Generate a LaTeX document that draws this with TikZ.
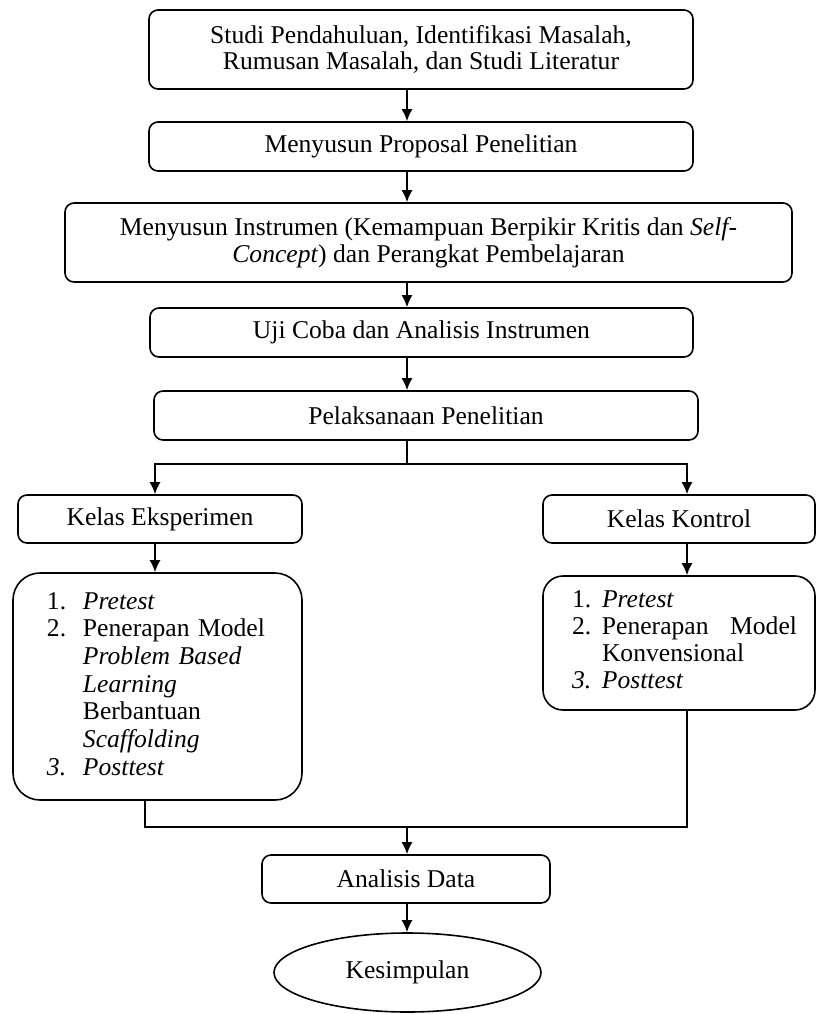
\documentclass[tikz,border=0pt]{standalone}
\usepackage{fontspec}
\setmainfont{Liberation Serif}
\usepackage{array}
\usetikzlibrary{arrows.meta, shapes.geometric}

\begin{document}
\begin{tikzpicture}[x=0.5pt, y=-0.5pt,
    kotak/.style={draw, line width=0.8pt, rounded corners=4.5pt, align=center, inner sep=0pt,
        font=\fontsize{12.8}{13.3}\selectfont},
    panah/.style={-{Latex[length=6pt, width=5.5pt]}, line width=0.8pt},
    garis/.style={line width=0.8pt}]
    \useasboundingbox (0,0) rectangle (816,1014);

    \coordinate (X) at (407,0);
    \coordinate (XL) at (155,0);
    \coordinate (XR) at (687,0);
    \coordinate (XM) at (145,0);
    \coordinate (C) at (407,464);
    \coordinate (M) at (407,827);

    \node[kotak, minimum width=272pt, minimum height=39.5pt] (S) at (421,49.5)
        {Studi Pendahuluan, Identifikasi Masalah,\\Rumusan Masalah, dan Studi Literatur};
    \node[kotak, minimum width=272pt, minimum height=24.5pt] (P) at (421,146.5)
        {Menyusun Proposal Penelitian};
    \node[kotak, minimum width=363.5pt, minimum height=39.5pt,
        font=\fontsize{12.8}{13.5}\selectfont] (I) at (428.5,242.5)
        {Menyusun Instrumen (Kemampuan Berpikir Kritis dan \textit{Self-}\\
        \textit{Concept}) dan Perangkat Pembelajaran};
    \node[kotak, minimum width=271.5pt, minimum height=24.5pt] (U) at (421.5,332.5)
        {Uji Coba dan Analisis Instrumen};
    \node[kotak, minimum width=272pt, minimum height=24.5pt] (L) at (426,415.5)
        {Pelaksanaan Penelitian};
    \node[kotak, minimum width=142pt, minimum height=24pt] (E) at (160,519)
        {Kelas Eksperimen};
    \node[kotak, minimum width=136pt, minimum height=24pt] (K) at (679,519)
        {Kelas Kontrol};

    \node[kotak, rounded corners=13.5pt, minimum width=144.5pt, minimum height=113.5pt,
        text width=144.5pt, align=left, font=\fontsize{12.8}{13.83}\selectfont] (LE) at (157.5,686.5)
        {\hspace*{17pt}\begin{tabular}{@{}p{18pt}@{}l@{}}
        1. & \textit{Pretest}\\
        2. & Penerapan Model\\
           & \textit{Problem Based}\\
           & \textit{Learning}\\
           & Berbantuan\\
           & \textit{Scaffolding}\\
        \textit{3.} & \textit{Posttest}
        \end{tabular}};
    \node[kotak, rounded corners=10pt, minimum width=136pt, minimum height=67pt,
        text width=136pt, align=left, font=\fontsize{12.8}{13.5}\selectfont] (LK) at (679,643)
        {\hspace*{14.5pt}\begin{tabular}{@{}p{15pt}@{}l@{}}
        1. & \textit{Pretest}\\
        2. & \makebox[97.5pt][l]{Penerapan\hfill Model}\\
           & Konvensional\\
        \textit{3.} & \textit{Posttest}
        \end{tabular}};

    \node[kotak, minimum width=144pt, minimum height=24pt] (A) at (406,879)
        {Analisis Data};
    \node[kotak, ellipse, minimum width=133.5pt, minimum height=39.5pt] (Z) at (407.5,972.5)
        {Kesimpulan};

    \draw[panah] (S.south -| X) -- (P.north -| X);
    \draw[panah] (P.south -| X) -- (I.north -| X);
    \draw[panah] (I.south -| X) -- (U.north -| X);
    \draw[panah] (U.south -| X) -- (L.north -| X);

    \draw[garis] (L.south -| X) -- (C);
    \draw[panah] (C) -| (E.north -| XL);
    \draw[panah] (C) -| (K.north -| XR);
    \draw[panah] (E.south -| XL) -- (LE.north -| XL);
    \draw[panah] (K.south -| XR) -- (LK.north -| XR);

    \draw[garis] (LE.south -| XM) |- (M);
    \draw[garis] (LK.south -| XR) |- (M);
    \draw[panah] (M) -- (A.north -| X);
    \draw[panah] (A.south -| X) -- (Z.north -| X);
\end{tikzpicture}
\end{document}
